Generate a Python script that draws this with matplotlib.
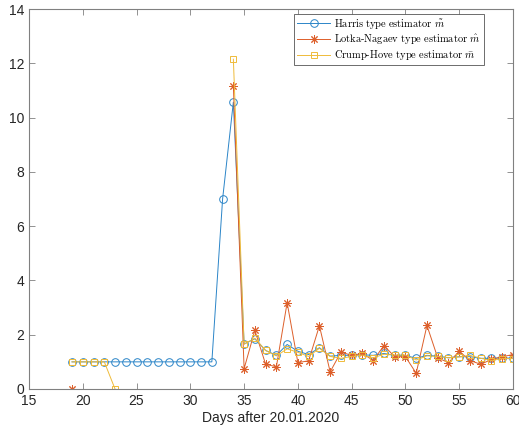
import numpy as np
import matplotlib
matplotlib.use("Agg")
import matplotlib.pyplot as plt

nan = np.nan

days = list(range(19, 61))

# Harris type estimator
harris = [1.0] * 14 + [
    7.0, 10.57, 1.66, 1.85, 1.42, 1.24, 1.64, 1.39, 1.27, 1.52,
    1.21, 1.24, 1.24, 1.26, 1.24, 1.31, 1.24, 1.24, 1.13, 1.24,
    1.21, 1.15, 1.19, 1.19, 1.13, 1.13, 1.15, 1.13,
]

# Lotka-Nagaev type estimator
lotka = [0.0] + [nan] * 14 + [
    11.15, 0.75, 2.16, 0.91, 0.82, 3.18, 0.97, 1.04, 2.33,
    0.63, 1.36, 1.24, 1.31, 1.05, 1.60, 1.19, 1.19, 0.58, 2.34,
    1.15, 0.97, 1.39, 1.05, 0.91, 1.09, 1.19, 1.27,
]

# Crump-Hove type estimator
crump = [1.0, 1.0, 1.0, 1.0, 0.0] + [nan] * 10 + [
    12.15, 1.65, 1.87, 1.42, 1.22, 1.48, 1.35, 1.20, 1.50,
    1.20, 1.13, 1.20, 1.25, 1.15, 1.28, 1.25, 1.25, 1.07, 1.22,
    1.20, 1.15, 1.18, 1.24, 1.13, 1.05, 1.12, 1.12,
]

plt.rcParams["font.family"] = ["Liberation Sans", "DejaVu Sans"]
plt.rcParams["mathtext.fontset"] = "cm"

fig = plt.figure(figsize=(5.19, 4.29), dpi=100)
ax = fig.add_axes([29 / 519, 1 - 389 / 429, 484 / 519, 380 / 429])

blue = "#2b85c8"
orange = "#dd5f2a"
yellow = "#efbb3a"
asterisk = (8, 2, 0)

ax.plot(days, harris, color=blue, lw=0.7, marker="o", ms=5.5, mfc="none",
        mew=0.7, label=r"$\mathrm{Harris\ type\ estimator\ }\tilde{m}$")
ax.plot(days, lotka, color=orange, lw=0.7, marker=asterisk, ms=6, mfc="none",
        mew=0.7, label=r"$\mathrm{Lotka\text{-}Nagaev\ type\ estimator\ }\hat{m}$")
ax.plot(days, crump, color=yellow, lw=0.7, marker="s", ms=5, mfc="none",
        mew=0.7, label=r"$\mathrm{Crump\text{-}Hove\ type\ estimator\ }\bar{m}$")

ax.set_xlim(15, 60)
ax.set_ylim(0, 14)
ax.set_xticks(range(15, 61, 5))
ax.set_yticks(range(0, 15, 2))
ax.set_xlabel("Days after 20.01.2020", fontsize=10, color="#262626", labelpad=2)

gray = "#262626"
for s in ax.spines.values():
    s.set_color("#808080")
    s.set_linewidth(0.8)
ax.tick_params(direction="in", length=4, width=0.6, colors="#808080",
               labelcolor=gray, labelsize=10, top=True, right=True)

leg = ax.legend(loc="upper right", bbox_to_anchor=(0.94, 0.987), fontsize=7.5,
                fancybox=False, framealpha=1, edgecolor="#555555",
                borderpad=0.3, labelspacing=0.15, handlelength=3.2,
                handletextpad=0.4, borderaxespad=0)
leg.get_frame().set_linewidth(0.6)

fig.savefig("out.png", dpi=100)
